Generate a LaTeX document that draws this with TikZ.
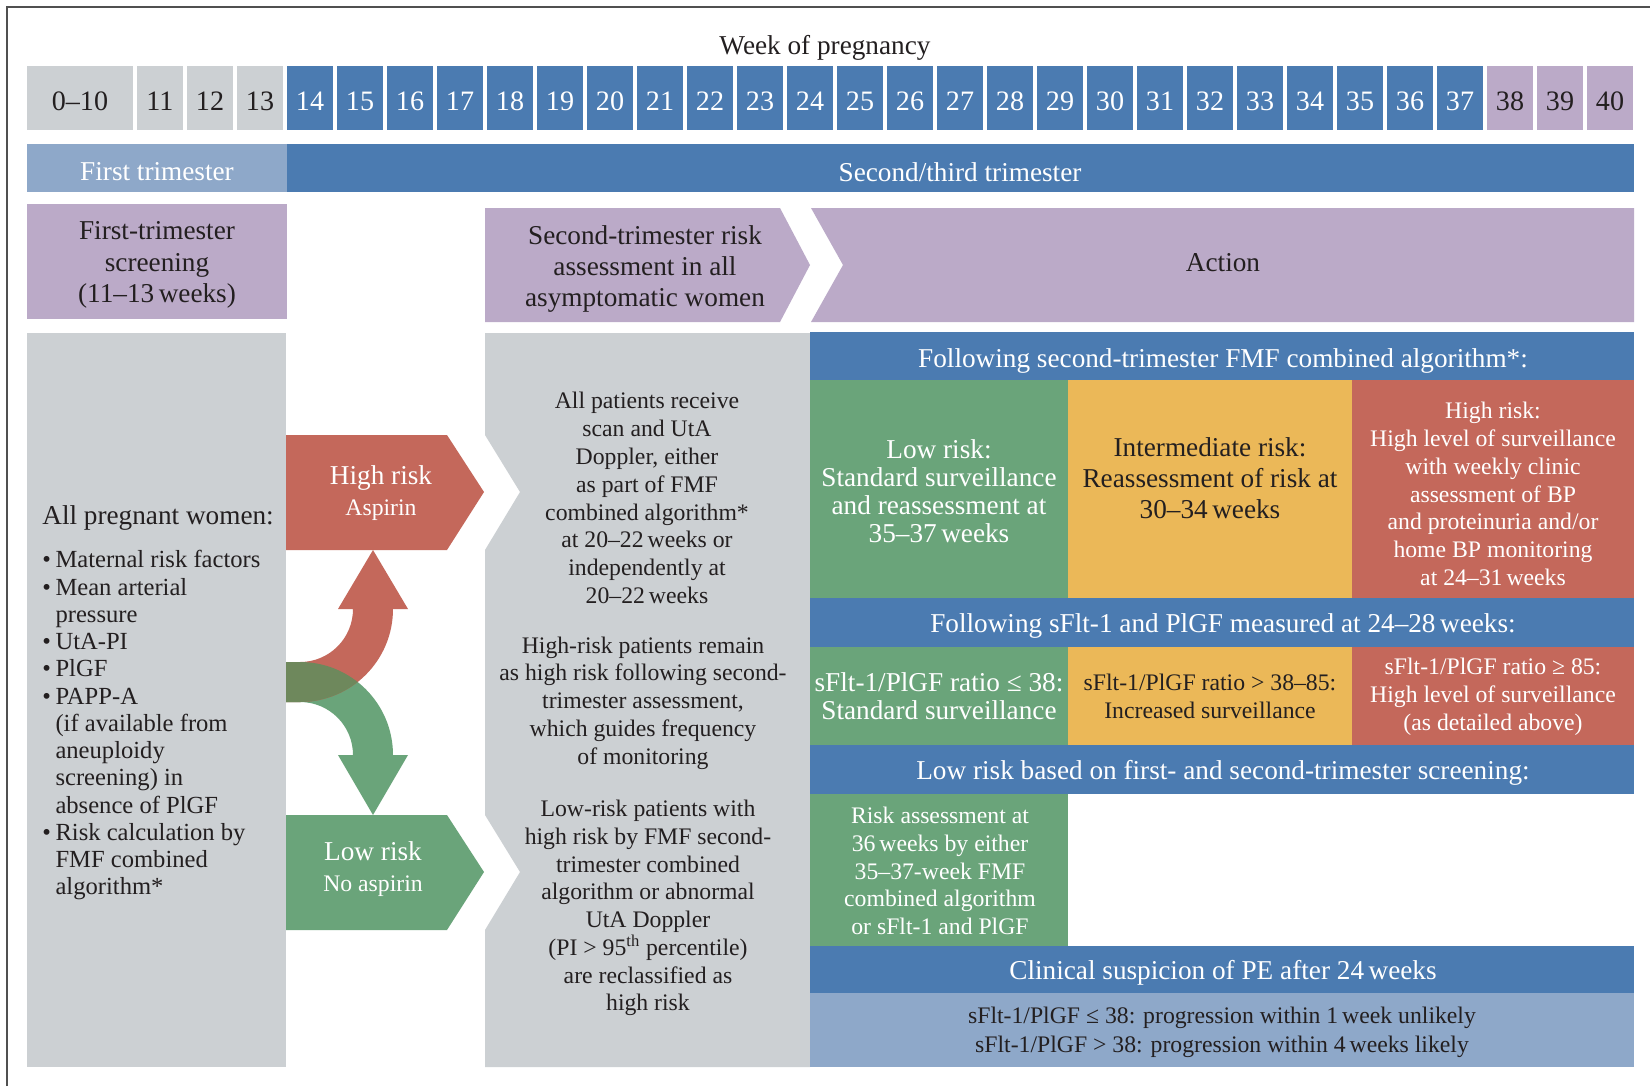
\documentclass[tikz,border=0pt]{standalone}
\usepackage{fontspec}
\setmainfont{Liberation Serif}
\tikzstyle{bigtxt} = [font=\fontsize{15.5}{17.8}\selectfont, align=center, inner sep=0pt]
\tikzstyle{smalltxt} = [font=\fontsize{13.5}{15.8}\selectfont, align=center, inner sep=0pt]
\tikzstyle{weeknum} = [font=\fontsize{16}{18}\selectfont, inner sep=0pt]
\tikzstyle{lefttxt} = [font=\fontsize{14}{15.5}\selectfont, align=left, inner sep=0pt]
\definecolor{WeekGrey}{RGB}{204,208,211}
\definecolor{WeekBlue}{RGB}{75,123,177}
\definecolor{PaleBlue}{RGB}{142,168,201}
\definecolor{Lilac}{RGB}{187,170,200}
\definecolor{RiskRed}{RGB}{196,104,91}
\definecolor{RiskGreen}{RGB}{106,164,122}
\definecolor{RiskYellow}{RGB}{235,184,88}
\definecolor{MixCol}{RGB}{110,136,92}
\definecolor{InkCol}{RGB}{35,31,32}
\definecolor{FrameCol}{RGB}{80,80,80}
\newcommand{\itmark}{\makebox[7.5pt][l]{\textbullet}}
\newcommand{\itgap}{\hspace*{7.5pt}}

\begin{document}
\begin{tikzpicture}[x=0.02cm,y=-0.02cm]

                    \useasboundingbox (0,0) rectangle (1650,1086);
                    \fill[white] (0,0) rectangle (1650,1086);
                    \draw[FrameCol, line width=1.2pt] (7,1086) -- (7,7) -- (1650,7);

                    \node[bigtxt, text=InkCol] (weektitle) at (825,48) {Week of pregnancy};

                    \fill[WeekGrey] (27,66) rectangle (133,130);
                    \node[weeknum, text=InkCol] (w0) at (80,101) {0–10};
                    \foreach \w in {11,12,13} {
                        \fill[WeekGrey] ({137+(\w-11)*50},66) rectangle ++(46,64);
                        \node[weeknum, text=InkCol] (w\w) at ({160+(\w-11)*50},101) {\w};
                    }
                    \foreach \w in {14,...,37} {
                        \fill[WeekBlue] ({137+(\w-11)*50},66) rectangle ++(46,64);
                        \node[weeknum, text=white] (w\w) at ({160+(\w-11)*50},101) {\w};
                    }
                    \foreach \w in {38,39,40} {
                        \fill[Lilac] ({137+(\w-11)*50},66) rectangle ++(46,64);
                        \node[weeknum, text=InkCol] (w\w) at ({160+(\w-11)*50},101) {\w};
                    }

                    \fill[PaleBlue] (27,144) rectangle (287,192);
                    \fill[WeekBlue] (287,144) rectangle (1634,192);
                    \node[bigtxt, text=white] (tri1) at (157,172) {First trimester};
                    \node[bigtxt, text=white] (tri23) at (960,172) {Second/third trimester};

                    \fill[Lilac] (27,204) rectangle (287,319);
                    \node[bigtxt, text=InkCol] (screen1) at (157,265) {First-trimester\\screening\\(11–13\,weeks)};
                    \fill[Lilac] (485,208) -- (780,208) -- (810,265) -- (780,322) -- (485,322) -- cycle;
                    \node[bigtxt, text=InkCol] (assess2) at (645,269) {Second-trimester risk\\assessment in all\\asymptomatic women};
                    \fill[Lilac] (811,208) -- (1634,208) -- (1634,322) -- (811,322) -- (843,265) -- cycle;
                    \node[bigtxt, text=InkCol] (action) at (1223,263) {Action};

                    \fill[WeekGrey] (27,333) rectangle (286,1067);
                    \node[lefttxt, text=InkCol, anchor=west] (allwomen) at (42,703) {{\fontsize{15.5}{18}\selectfont All pregnant women:}\\[9pt]
                        \itmark Maternal risk factors\\
                        \itmark Mean arterial\\
                        \itgap pressure\\
                        \itmark UtA-PI\\
                        \itmark PlGF\\
                        \itmark PAPP-A\\
                        \itgap (if available from\\
                        \itgap aneuploidy\\
                        \itgap screening) in\\
                        \itgap absence of PlGF\\
                        \itmark Risk calculation by\\
                        \itgap FMF combined\\
                        \itgap algorithm*};

                    \fill[WeekGrey] (485,333) -- (810,333) -- (810,1067) -- (485,1067) -- (485,930) -- (520,872) -- (485,815)
                        -- (485,550) -- (520,492) -- (485,435) -- cycle;
                    \node[smalltxt, text=InkCol] (scan) at (647,498) {All patients receive\\scan and UtA\\Doppler, either\\as part of FMF\\combined algorithm*\\at 20–22\,weeks or\\independently at\\20–22\,weeks};
                    \node[smalltxt, text=InkCol] (remain) at (643,703) {High-risk patients remain\\as high risk following second-\\trimester assessment,\\which guides frequency\\of monitoring};
                    \node[smalltxt, text=InkCol] (reclass) at (648,908) {Low-risk patients with\\high risk by FMF second-\\trimester combined\\algorithm or abnormal\\UtA Doppler\\(PI > 95\textsuperscript{th} percentile)\\are reclassified as\\high risk};

                    \fill[RiskRed] (286,435) -- (447,435) -- (484,492) -- (447,550) -- (286,550) -- cycle;
                    \fill[RiskGreen] (286,815) -- (447,815) -- (484,872) -- (447,930) -- (286,930) -- cycle;
                    \node[bigtxt, text=white] (hirisk) at (381,493) {High risk\\{\fontsize{13.5}{15}\selectfont Aspirin}};
                    \node[bigtxt, text=white] (lorisk) at (373,869) {Low risk\\{\fontsize{13.5}{15}\selectfont No aspirin}};

                    \fill[RiskGreen] (286,662) -- (300,662) .. controls (351.4,662) and (393,703.6) .. (393,755) -- (408,755) -- (373,815)
                        -- (338,755) -- (353,755) .. controls (353,725.7) and (329.3,702) .. (300,702) -- (286,702) -- cycle;
                    \fill[RiskRed] (286,662) -- (300,662) .. controls (329.3,662) and (353,638.3) .. (353,609) -- (338,609) -- (373,550)
                        -- (408,609) -- (393,609) .. controls (393,660.4) and (351.4,702) .. (300,702) -- (286,702) -- cycle;
                    \begin{scope}
                        \clip (286,662) -- (300,662) .. controls (329.3,662) and (353,638.3) .. (353,609) -- (338,609) -- (373,550)
                            -- (408,609) -- (393,609) .. controls (393,660.4) and (351.4,702) .. (300,702) -- (286,702) -- cycle;
                        \fill[MixCol] (286,662) -- (300,662) .. controls (351.4,662) and (393,703.6) .. (393,755) -- (408,755) -- (373,815)
                            -- (338,755) -- (353,755) .. controls (353,725.7) and (329.3,702) .. (300,702) -- (286,702) -- cycle;
                    \end{scope}

                    \fill[WeekBlue] (810,332) rectangle (1634,380);
                    \node[bigtxt, text=white] (fmfhead) at (1223,361) {Following second-trimester FMF combined algorithm*:};
                    \fill[RiskGreen] (810,380) rectangle (1068,598);
                    \fill[RiskYellow] (1068,380) rectangle (1352,598);
                    \fill[RiskRed] (1352,380) rectangle (1634,598);
                    \node[bigtxt, text=white, font=\fontsize{15.5}{16}\selectfont] (fmflow) at (939,491) {Low risk:\\Standard surveillance\\and reassessment at\\35–37\,weeks};
                    \node[bigtxt, text=InkCol] (fmfmid) at (1210,478) {Intermediate risk:\\Reassessment of risk at\\30–34\,weeks};
                    \node[smalltxt, text=white] (fmfhigh) at (1493,494) {High risk:\\High level of surveillance\\with weekly clinic\\assessment of BP\\and proteinuria and/or\\home BP monitoring\\at 24–31\,weeks};

                    \fill[WeekBlue] (810,598) rectangle (1634,647);
                    \node[bigtxt, text=white] (sflthead) at (1223,626) {Following sFlt-1 and PlGF measured at 24–28\,weeks:};
                    \fill[RiskGreen] (810,647) rectangle (1068,745);
                    \fill[RiskYellow] (1068,647) rectangle (1352,745);
                    \fill[RiskRed] (1352,647) rectangle (1634,745);
                    \node[bigtxt, text=white, font=\fontsize{15.5}{16}\selectfont] (sfltlow) at (939,696) {sFlt-1/PlGF ratio ≤ 38:\\Standard surveillance};
                    \node[smalltxt, text=InkCol] (sfltmid) at (1210,696) {sFlt-1/PlGF ratio > 38–85:\\Increased surveillance};
                    \node[smalltxt, text=white] (sflthigh) at (1493,697) {sFlt-1/PlGF ratio ≥ 85:\\High level of surveillance\\(as detailed above)};

                    \fill[WeekBlue] (810,745) rectangle (1634,794);
                    \node[bigtxt, text=white] (lowhead) at (1223,773) {Low risk based on first- and second-trimester screening:};
                    \fill[RiskGreen] (810,794) rectangle (1068,946);
                    \node[smalltxt, text=white] (late) at (940,871) {Risk assessment at\\36\,weeks by either\\35–37-week FMF\\combined algorithm\\or sFlt-1 and PlGF};

                    \fill[WeekBlue] (810,946) rectangle (1634,993);
                    \node[bigtxt, text=white] (pehead) at (1223,973) {Clinical suspicion of PE after 24\,weeks};
                    \fill[PaleBlue] (810,993) rectangle (1634,1067);
                    \node[smalltxt, text=InkCol, font=\fontsize{13.5}{16.4}\selectfont] (pefoot) at (1222,1032) {sFlt-1/PlGF ≤ 38: progression within 1\,week unlikely\\sFlt-1/PlGF > 38: progression within 4\,weeks likely};

                \end{tikzpicture}
\end{document}
